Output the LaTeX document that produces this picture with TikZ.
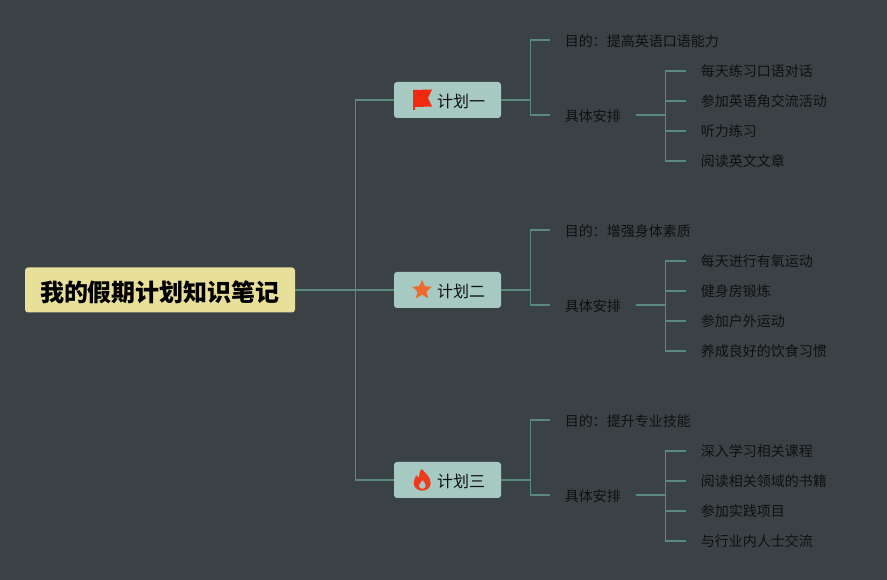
\documentclass[tikz,border=0pt]{standalone}
\usepackage{fontspec}
\setmainfont{Noto Sans CJK SC}
\usetikzlibrary{positioning}
\definecolor{boardbg}{HTML}{3B4245}
\definecolor{rootfill}{HTML}{E8E09A}
\definecolor{planfill}{HTML}{A6C9C1}
\definecolor{linkcol}{HTML}{5A8A7E}
\definecolor{inkcol}{HTML}{101010}
\tikzset{
    rootbox/.style = {fill=rootfill, rounded corners=3pt, minimum width=270pt, minimum height=45pt, inner sep=0pt, text=black, text height=24.5pt, font=\fontsize{24pt}{28pt}\selectfont\bfseries},
    planbox/.style = {fill=planfill, rounded corners=3pt, minimum width=107pt, minimum height=36pt, inner sep=0pt, text=inkcol, text height=16.1pt, font=\fontsize{16pt}{20pt}\selectfont},
    leaf/.style = {inner xsep=14.5pt, inner ysep=2pt, text=inkcol, font=\fontsize{14pt}{18pt}\selectfont},
    branch/.style = {leaf, text height=14.7pt},
    link/.style = {draw=linkcol, line width=1.4pt},
    flagicon/.pic = {
        \fill[fill={rgb,255:red,240;green,42;blue,14}] (-34.5,10) -- (-15.5,10.5) -- (-19.5,2) -- (-15.5,-6.5) -- (-32.5,-7) -- (-32.5,-10) -- (-34.5,-10) -- cycle;
    },
    staricon/.pic = {
        \fill[fill={rgb,255:red,238;green,106;blue,47}, rounded corners=1pt, shift={(-25.5,0)}] (90:10.5) -- (126:4.6) -- (162:10.5) -- (198:4.6) -- (234:10.5) -- (270:4.6) -- (306:10.5) -- (342:4.6) -- (18:10.5) -- (54:4.6) -- cycle;
    },
    flameicon/.pic = {
        \begin{scope}[shift={(-25.3,0)}]
            \fill[fill={rgb,255:red,240;green,58;blue,28}] (-0.5,11) .. controls (3,7) and (8.5,3) .. (8.5,-3) .. controls (8.5,-8) and (4,-10.7) .. (0,-10.7) .. controls (-4,-10.7) and (-8.5,-8) .. (-8.5,-3) .. controls (-8.5,0) and (-7,2) .. (-6,4.5) .. controls (-5,3.5) and (-4,3) .. (-3.2,2.5) .. controls (-3.2,5) and (-2.5,9) .. (-0.5,11) -- cycle;
            \fill[fill=planfill] (0.3,-8.8) .. controls (-2,-8.8) and (-3.6,-7) .. (-3.2,-5) .. controls (-2.8,-3.5) and (-0.5,-2.5) .. (0.3,-0.3) .. controls (1.5,-2) and (3.4,-3.5) .. (3.4,-5.5) .. controls (3.4,-7.5) and (2,-8.8) .. (0.3,-8.8) -- cycle;
        \end{scope}
    }
}
\begin{document}
\begin{tikzpicture}
        [
            x = 1pt, y = 1pt
        ]
        \fill[boardbg, use as bounding box] (0,0) rectangle (887,580);
        \node[rootbox]                                (root)    at (160,290) {我的假期计划知识笔记};
        \node[planbox]                                (planA)   at (447.5,480) {\hspace*{27pt}计划一};
        \node[planbox]                                (planB)   at (447.5,290) {\hspace*{27pt}计划二};
        \node[planbox]                                (planC)   at (447.5,100) {\hspace*{27pt}计划三};
        \pic at (planA) {flagicon};
        \pic at (planB) {staricon};
        \pic at (planC) {flameicon};
        % first plan
        \node[branch, right = 49pt of planA, yshift=60pt]    (goalA)   {目的：提高英语口语能力};
        \node[branch, right = 49pt of planA, yshift=-15pt]   (workA)   {具体安排};
        \node[leaf, right = 50.5pt of workA, yshift=44pt]    (itemAa)  {每天练习口语对话};
        \node[leaf, right = 50.5pt of workA, yshift=14pt]    (itemAb)  {参加英语角交流活动};
        \node[leaf, right = 50.5pt of workA, yshift=-16pt]   (itemAc)  {听力练习};
        \node[leaf, right = 50.5pt of workA, yshift=-46pt]   (itemAd)  {阅读英文文章};
        % second plan
        \node[branch, right = 49pt of planB, yshift=60pt]    (goalB)   {目的：增强身体素质};
        \node[branch, right = 49pt of planB, yshift=-15pt]   (workB)   {具体安排};
        \node[leaf, right = 50.5pt of workB, yshift=44pt]    (itemBa)  {每天进行有氧运动};
        \node[leaf, right = 50.5pt of workB, yshift=14pt]    (itemBb)  {健身房锻炼};
        \node[leaf, right = 50.5pt of workB, yshift=-16pt]   (itemBc)  {参加户外运动};
        \node[leaf, right = 50.5pt of workB, yshift=-46pt]   (itemBd)  {养成良好的饮食习惯};
        % third plan
        \node[branch, right = 49pt of planC, yshift=60pt]    (goalC)   {目的：提升专业技能};
        \node[branch, right = 49pt of planC, yshift=-15pt]   (workC)   {具体安排};
        \node[leaf, right = 50.5pt of workC, yshift=44pt]    (itemCa)  {深入学习相关课程};
        \node[leaf, right = 50.5pt of workC, yshift=14pt]    (itemCb)  {阅读相关领域的书籍};
        \node[leaf, right = 50.5pt of workC, yshift=-16pt]   (itemCc)  {参加实践项目};
        \node[leaf, right = 50.5pt of workC, yshift=-46pt]   (itemCd)  {与行业内人士交流};
        % links
        \draw[link]  (root.east) -- ++(60,0) |- (planA.west);
        \draw[link]  (root.east) -- (planB.west);
        \draw[link]  (root.east) -- ++(60,0) |- (planC.west);
        \draw[link]  (planA.east) -- ++(29,0) |- (goalA.west);
        \draw[link]  (planA.east) -- ++(29,0) |- (workA.west);
        \draw[link]  (planB.east) -- ++(29,0) |- (goalB.west);
        \draw[link]  (planB.east) -- ++(29,0) |- (workB.west);
        \draw[link]  (planC.east) -- ++(29,0) |- (goalC.west);
        \draw[link]  (planC.east) -- ++(29,0) |- (workC.west);
        \draw[link]  (workA.east) -- ++(30,0) |- (itemAa.west);
        \draw[link]  (workA.east) -- ++(30,0) |- (itemAb.west);
        \draw[link]  (workA.east) -- ++(30,0) |- (itemAc.west);
        \draw[link]  (workA.east) -- ++(30,0) |- (itemAd.west);
        \draw[link]  (workB.east) -- ++(30,0) |- (itemBa.west);
        \draw[link]  (workB.east) -- ++(30,0) |- (itemBb.west);
        \draw[link]  (workB.east) -- ++(30,0) |- (itemBc.west);
        \draw[link]  (workB.east) -- ++(30,0) |- (itemBd.west);
        \draw[link]  (workC.east) -- ++(30,0) |- (itemCa.west);
        \draw[link]  (workC.east) -- ++(30,0) |- (itemCb.west);
        \draw[link]  (workC.east) -- ++(30,0) |- (itemCc.west);
        \draw[link]  (workC.east) -- ++(30,0) |- (itemCd.west);
    \end{tikzpicture}
\end{document}
